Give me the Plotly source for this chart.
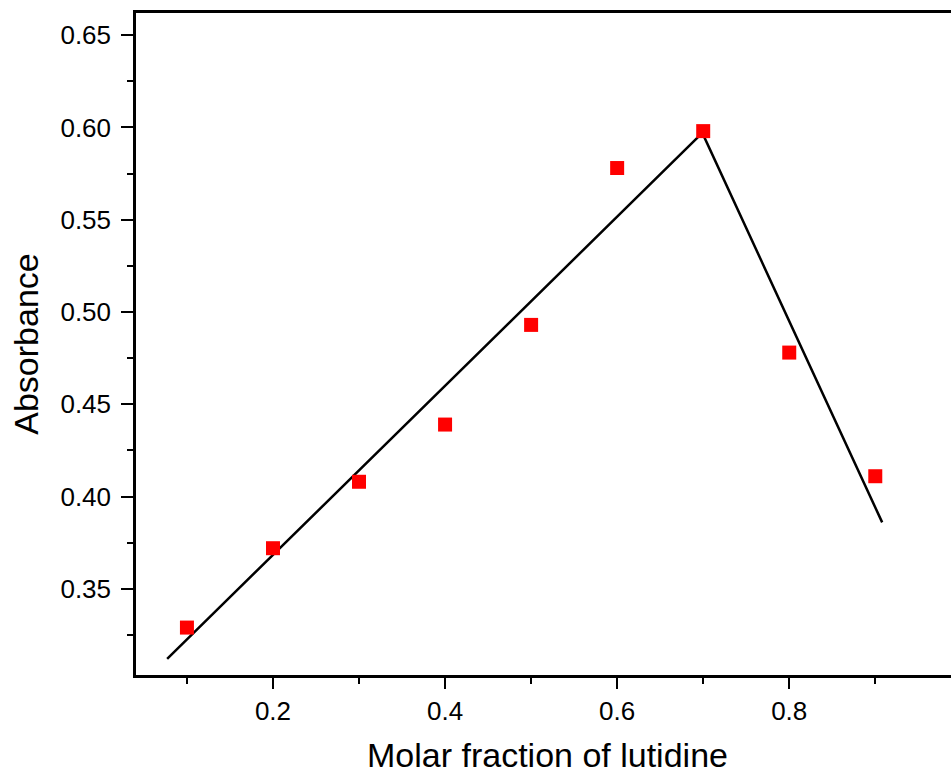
import plotly.graph_objects as go

# Measured data (red squares)
mole_fraction = [0.1, 0.2, 0.3, 0.4, 0.5, 0.6, 0.7, 0.8, 0.9]
absorbance = [0.329, 0.372, 0.408, 0.439, 0.493, 0.578, 0.598, 0.478, 0.411]

# Linear fit segments (black line)
fit_x = [0.077, 0.699, 0.908]
fit_y = [0.312, 0.597, 0.386]

x_ticks = [0.2, 0.4, 0.6, 0.8]
x_tick_labels = ["0.2", "0.4", "0.6", "0.8"]
y_ticks = [0.35, 0.40, 0.45, 0.50, 0.55, 0.60, 0.65]
y_tick_labels = ["0.35", "0.40", "0.45", "0.50", "0.55", "0.60", "0.65"]

x_title = "Molar fraction of lutidine"
y_title = "Absorbance"

fig = go.Figure()
fig.add_trace(go.Scatter(
    x=fit_x, y=fit_y, mode="lines",
    line=dict(color="black", width=2.5),
    showlegend=False, hoverinfo="skip",
))
fig.add_trace(go.Scatter(
    x=mole_fraction, y=absorbance, mode="markers",
    marker=dict(symbol="square", size=14, color="#ff0000", line=dict(width=0)),
    showlegend=False,
))

font_family = "Liberation Sans, Arial, sans-serif"

fig.update_layout(
    width=951, height=775,
    margin=dict(l=136, r=0, t=13, b=100),
    paper_bgcolor="white", plot_bgcolor="white",
    font=dict(family=font_family, color="black"),
    xaxis=dict(
        range=[0.0408, 0.988],
        automargin=False,
        tickvals=x_ticks, ticktext=x_tick_labels,
        tickfont=dict(size=26, family=font_family, color="black"),
        ticks="outside", ticklen=11, tickwidth=2, tickcolor="black",
        minor=dict(tickvals=[0.1, 0.3, 0.5, 0.7, 0.9], ticks="outside",
                   ticklen=6, tickwidth=2, tickcolor="black", showgrid=False),
        showline=True, linewidth=2.5, linecolor="black", mirror=True,
        showgrid=False, zeroline=False,
    ),
    yaxis=dict(
        range=[0.3033, 0.662],
        automargin=False,
        tickvals=y_ticks, ticktext=y_tick_labels,
        tickfont=dict(size=26, family=font_family, color="black"),
        ticks="outside", ticklen=12, tickwidth=2, tickcolor="black",
        minor=dict(tickvals=[0.325, 0.375, 0.425, 0.475, 0.525, 0.575, 0.625],
                   ticks="outside", ticklen=6, tickwidth=2, tickcolor="black",
                   showgrid=False),
        showline=True, linewidth=2.5, linecolor="black", mirror=False,
        showgrid=False, zeroline=False,
        ticklabelstandoff=5,
        title=dict(text=y_title,
                   font=dict(size=34, family=font_family, color="black"),
                   standoff=12),
    ),
    annotations=[dict(
        text=x_title, xref="paper", yref="paper", x=0.505, y=0,
        xanchor="center", yanchor="middle", yshift=-80, showarrow=False,
        font=dict(size=34, family=font_family, color="black"),
    )],
)

# remove the default page margin so the figure fills the window exactly
fig.write_html(
    "out.html",
    config={"displayModeBar": False},
    post_script="document.body.style.margin='0';document.body.style.overflow='hidden';",
)
